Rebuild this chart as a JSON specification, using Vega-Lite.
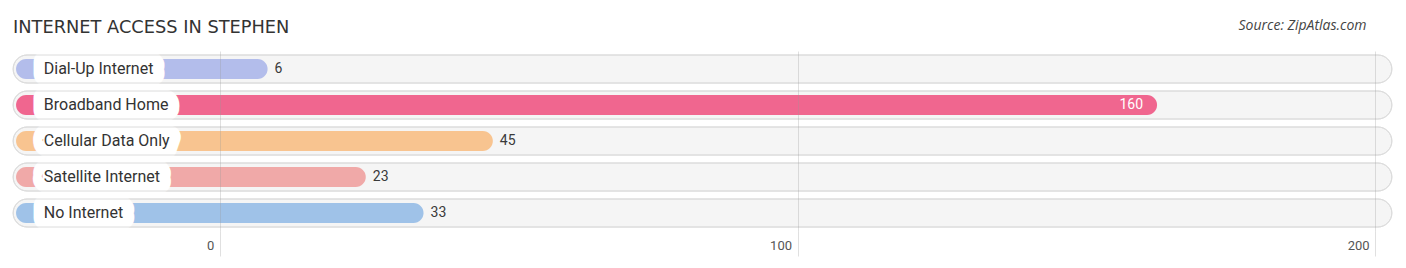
{
  "$schema": "https://vega.github.io/schema/vega-lite/v6.json",
  "width": 1381,
  "height": 180,
  "autosize": {"type": "none"},
  "padding": {"left": 12, "top": 51, "right": 13, "bottom": 37},
  "background": "white",
  "title": {
    "text": "INTERNET ACCESS IN STEPHEN",
    "anchor": "start",
    "frame": "group",
    "font": "DejaVu Sans",
    "fontSize": 17.8,
    "fontWeight": "normal",
    "color": "#333333",
    "baseline": "alphabetic",
    "offset": -33,
    "dx": 1
  },
  "config": {
    "view": {"stroke": null},
    "text": {"font": "Roboto"}
  },
  "data": {
    "values": [
      {"label": "Dial-Up Internet", "value": 6},
      {"label": "Broadband Home", "value": 160},
      {"label": "Cellular Data Only", "value": 45},
      {"label": "Satellite Internet", "value": 23},
      {"label": "No Internet", "value": 33}
    ]
  },
  "layer": [
    {
      "mark": {"type": "bar", "size": 28, "cornerRadius": 14, "fill": "#f5f5f5", "stroke": "#dcdcdc", "strokeWidth": 1},
      "encoding": {
        "y": {
          "field": "label",
          "type": "nominal",
          "scale": {
            "domain": ["Dial-Up Internet", "Broadband Home", "Cellular Data Only", "Satellite Internet", "No Internet"],
            "paddingInner": 0,
            "paddingOuter": 0
          },
          "axis": {
            "orient": "right",
            "labels": false,
            "ticks": false,
            "domain": false,
            "title": "Source: ZipAtlas.com",
            "titleAngle": 0,
            "titleAlign": "right",
            "titleBaseline": "alphabetic",
            "titleX": -27,
            "titleY": -22,
            "titleFont": "Open Sans",
            "titleFontSize": 14,
            "titleFontStyle": "italic",
            "titleFontWeight": "normal",
            "titleColor": "#444444"
          }
        },
        "x": {
          "datum": -35.8,
          "type": "quantitative",
          "scale": {"domain": [-36, 203.1], "nice": false, "zero": false},
          "axis": {
            "values": [0, 100, 200],
            "grid": true,
            "gridColor": "#999999",
            "gridOpacity": 0.3,
            "zindex": 1,
            "domain": false,
            "ticks": true,
            "tickSize": 25,
            "tickColor": "#999999",
            "tickOpacity": 0.3,
            "labelAlign": "right",
            "labelBaseline": "middle",
            "labelOffset": -6,
            "labelPadding": -11,
            "labelFont": "Roboto",
            "labelFontSize": 13,
            "labelColor": "#555555",
            "title": null
          }
        },
        "x2": {"datum": 202.9}
      }
    },
    {
      "mark": {"type": "bar", "size": 20, "cornerRadius": 10, "xOffset": 13},
      "encoding": {
        "y": {"field": "label", "type": "nominal"},
        "x": {"field": "value", "type": "quantitative"},
        "x2": {"datum": -35.3},
        "color": {
          "field": "label",
          "type": "nominal",
          "scale": {
            "domain": ["Dial-Up Internet", "Broadband Home", "Cellular Data Only", "Satellite Internet", "No Internet"],
            "range": ["#b3bdeb", "#f0668f", "#f8c490", "#f0a9a8", "#9fc2e8"]
          },
          "legend": null
        }
      }
    },
    {
      "mark": {"type": "text", "align": "left", "baseline": "middle", "fontSize": 16, "fill": "white", "stroke": "white", "strokeWidth": 23, "strokeJoin": "round", "strokeCap": "round"},
      "encoding": {
        "y": {"field": "label", "type": "nominal"},
        "x": {"datum": -30.5, "type": "quantitative"},
        "text": {"field": "label"}
      }
    },
    {
      "mark": {"type": "bar", "size": 28, "cornerRadius": 14, "fillOpacity": 0, "stroke": "#dcdcdc", "strokeWidth": 1},
      "encoding": {
        "y": {"field": "label", "type": "nominal"},
        "x": {"datum": -35.8, "type": "quantitative"},
        "x2": {"datum": 202.9}
      }
    },
    {
      "mark": {"type": "text", "align": "left", "baseline": "middle", "fontSize": 16, "fill": "#333333"},
      "encoding": {
        "y": {"field": "label", "type": "nominal"},
        "x": {"datum": -30.5, "type": "quantitative"},
        "text": {"field": "label"}
      }
    },
    {
      "transform": [{"filter": "datum.value < 100"}],
      "mark": {"type": "text", "align": "left", "baseline": "middle", "fontSize": 14, "dx": 20, "fill": "#3a3a3a"},
      "encoding": {
        "y": {"field": "label", "type": "nominal"},
        "x": {"field": "value", "type": "quantitative"},
        "text": {"field": "value"}
      }
    },
    {
      "transform": [{"filter": "datum.value >= 100"}],
      "mark": {"type": "text", "align": "right", "baseline": "middle", "fontSize": 14, "dx": -1, "fill": "white"},
      "encoding": {
        "y": {"field": "label", "type": "nominal"},
        "x": {"field": "value", "type": "quantitative"},
        "text": {"field": "value"}
      }
    }
  ]
}
